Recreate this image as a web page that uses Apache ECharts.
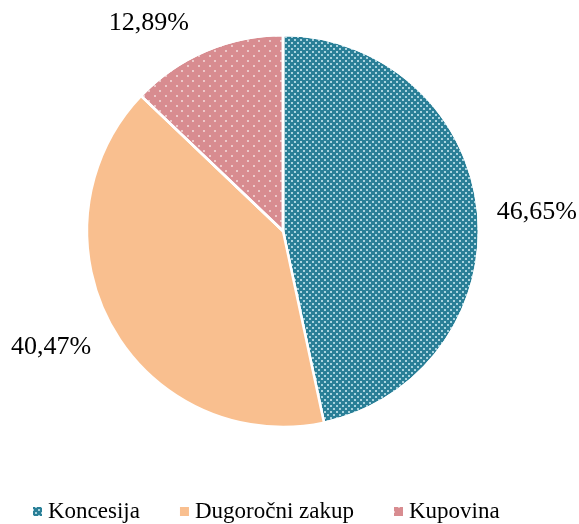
<!DOCTYPE html>
<html>
<head>
<meta charset="utf-8">
<script src="https://cdn.jsdelivr.net/npm/echarts@6/dist/echarts.min.js"></script>
<style>
  html, body { margin: 0; padding: 0; background: #fff; }
  #chart { width: 579px; height: 524px; }
</style>
</head>
<body>
<div id="chart"></div>
<script>
const categories = ['Koncesija', 'Dugoročni zakup', 'Kupovina']
const shares = [46.65, 40.47, 12.89]

const fills = ['#2a7f97', '#f9bf8f', '#d88c90']
// pattern overlays drawn by echarts decal
const decals = [
  { symbol: 'rect', symbolSize: 1, color: '#a9d3de', dashArrayX: [[2, 4], [0, 3, 2, 1]], dashArrayY: [2, 1] },
  { symbol: 'none', color: 'transparent', dashArrayX: [1, 0], dashArrayY: [1, 0] },
  { symbol: 'circle', symbolSize: 1, color: '#f4dcdd', dashArrayX: [[2, 9], [0, 5, 2, 4]], dashArrayY: [2, 3] }
]
const lineLengths = [[14, 0], [18, 2], [30, 6]]
const labelShift = [[0, 3], [2, 12], [6, 0]]

const chart = echarts.init(document.getElementById('chart'))

chart.setOption({
  animation: false,
  legend: {
    left: 26,
    bottom: -4,
    itemWidth: 11,
    itemHeight: 11,
    itemGap: 38,
    icon: 'rect',
    textStyle: { fontFamily: 'Liberation Serif', fontSize: 23, color: '#000' }
  },
  series: [{
    type: 'pie',
    center: [283, 231],
    radius: 196,
    startAngle: 90,
    clockwise: true,
    avoidLabelOverlap: false,
    itemStyle: { borderColor: '#fff', borderWidth: 2.5 },
    label: {
      position: 'outside',
      fontFamily: 'Liberation Serif',
      fontSize: 26,
      color: '#000',
      formatter: p => p.value.toFixed(2).replace('.', ',') + '%'
    },
    labelLine: { show: false },
    labelLayout: p => ({ dx: labelShift[p.dataIndex][0], dy: labelShift[p.dataIndex][1] }),
    data: categories.map((name, i) => ({
      name,
      value: shares[i],
      itemStyle: { color: fills[i], decal: i === 1 ? null : decals[i] },
      labelLine: { show: false, length: lineLengths[i][0], length2: lineLengths[i][1] }
    }))
  }]
})
</script>
</body>
</html>
